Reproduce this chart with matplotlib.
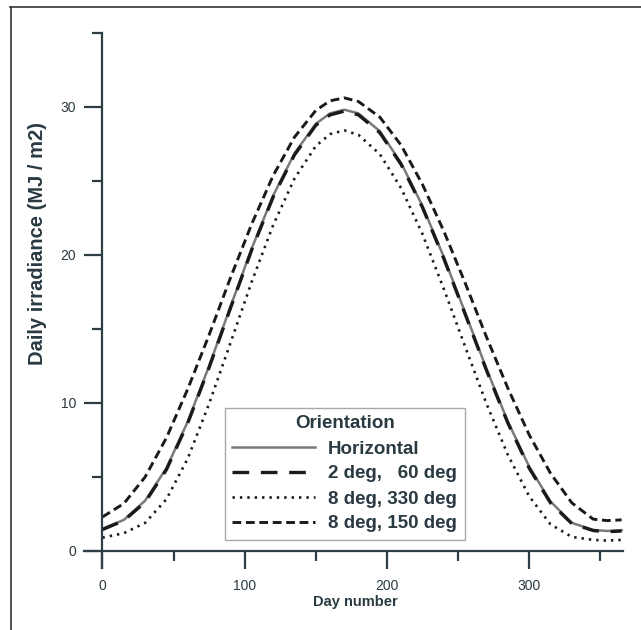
import matplotlib
matplotlib.use("Agg")
import matplotlib.pyplot as plt
from matplotlib.lines import Line2D

plt.rcParams['font.family'] = ['Liberation Sans', 'DejaVu Sans']

days = [0, 15, 30, 45, 60, 75, 90, 105, 120, 135, 150, 160, 170, 180, 195, 210,
        225, 240, 255, 270, 285, 300, 315, 330, 345, 355, 365]
horizontal = [1.5, 2.1, 3.4, 5.6, 8.75, 12.5, 16.5, 20.45, 24.0, 26.85, 28.85, 29.55, 29.8,
              29.55, 28.35, 26.2, 23.3, 19.85, 16.1, 12.3, 8.75, 5.7, 3.35, 1.9, 1.42, 1.35, 1.4]
deg2_60 = [1.45, 2.05, 3.3, 5.5, 8.65, 12.4, 16.4, 20.35, 23.9, 26.75, 28.75, 29.45, 29.7,
           29.45, 28.25, 26.1, 23.2, 19.75, 16.0, 12.2, 8.65, 5.6, 3.25, 1.85, 1.38, 1.3, 1.35]
deg8_330 = [0.9, 1.2, 1.9, 3.5, 6.25, 9.95, 14.05, 18.2, 22.0, 25.15, 27.35, 28.15, 28.4,
            28.1, 26.8, 24.5, 21.4, 17.7, 13.8, 9.95, 6.5, 3.7, 1.8, 0.95, 0.75, 0.7, 0.75]
deg8_150 = [2.3, 3.2, 5.0, 7.65, 10.95, 14.6, 18.45, 22.1, 25.35, 27.95, 29.75, 30.4, 30.6,
            30.35, 29.3, 27.4, 24.75, 21.6, 18.1, 14.45, 11.0, 7.85, 5.25, 3.25, 2.15, 2.05, 2.1]

labels = ['Horizontal', '2 deg,   60 deg', '8 deg, 330 deg', '8 deg, 150 deg']

axc = '#2e3e46'
txt = '#2a3a42'

fig = plt.figure(figsize=(6.41, 6.30), dpi=100)
ax = fig.add_axes([84/641, 1-568/630, (623-84)/641, (568-32.7)/630])

ax.plot(days, horizontal, color='#7a7a7a', lw=1.8, label=labels[0])
ax.plot(days, deg2_60, color='#1a1a1a', lw=2.4, linestyle=(0, (5, 3.5)), label=labels[1])
ax.plot(days, deg8_330, color='#1a1a1a', lw=1.9, linestyle=(0, (0.9, 1.9)), label=labels[2])
ax.plot(days, deg8_150, color='#1a1a1a', lw=2.1, linestyle=(0, (3, 1.6)), label=labels[3])

ax.set_xlim(-13, 366)
ax.set_ylim(-1.15, 35)
for s in ['top', 'right']:
    ax.spines[s].set_visible(False)
ax.spines['left'].set_position(('data', 0))
ax.spines['bottom'].set_position(('data', 0))
for s in ['left', 'bottom']:
    ax.spines[s].set_color(axc)
    ax.spines[s].set_linewidth(1.6)

ax.set_xticks([0, 100, 200, 300])
ax.set_xticks([50, 150, 250, 350], minor=True)
ax.set_yticks([0, 10, 20, 30])
ax.set_yticks([5, 15, 25, 35], minor=True)
ax.tick_params(axis='both', which='major', direction='out', length=13, width=1.6,
               color=axc, labelsize=10, labelcolor=txt)
ax.tick_params(axis='both', which='minor', direction='out', length=7, width=1.6, color=axc)
ax.tick_params(axis='x', which='major', pad=7)
ax.tick_params(axis='y', which='major', pad=6)
ax.set_xticklabels(['0', '100', '200', '300'])

ax.set_xlabel('Day number', fontsize=10.5, fontweight='bold', color=txt)
ax.set_ylabel('Daily irradiance (MJ / m2)', fontsize=14.5, fontweight='bold', color=txt)
ax.xaxis.set_label_coords((355 - 84) / (623 - 84), -(595 - 568) / (568 - 32.7))
ax.yaxis.set_label_coords(-(84 - 47) / (623 - 84), (568 - 243.5) / (568 - 32.7))

leg = ax.legend(loc='lower left', bbox_to_anchor=(225/641, 1-540/630),
                bbox_transform=fig.transFigure, borderaxespad=0,
                title='Orientation', fontsize=13.5, title_fontsize=13.5,
                handlelength=4.4, handletextpad=0.7, labelspacing=0.42,
                fancybox=False, edgecolor='#a8a8a8', framealpha=1,
                borderpad=0.4)
leg.get_title().set_fontweight('bold')
leg.get_title().set_color(txt)
leg.get_frame().set_linewidth(1.0)
for t in leg.get_texts():
    t.set_fontweight('bold')
    t.set_color(txt)

# page border lines
fig.add_artist(Line2D([10/641, 1], [1-7/630, 1-7/630], transform=fig.transFigure,
                      color='#333333', lw=1.2))
fig.add_artist(Line2D([11/641, 11/641], [0, 1-7/630], transform=fig.transFigure,
                      color='#333333', lw=1.2))

fig.savefig('out.png', dpi=100)
